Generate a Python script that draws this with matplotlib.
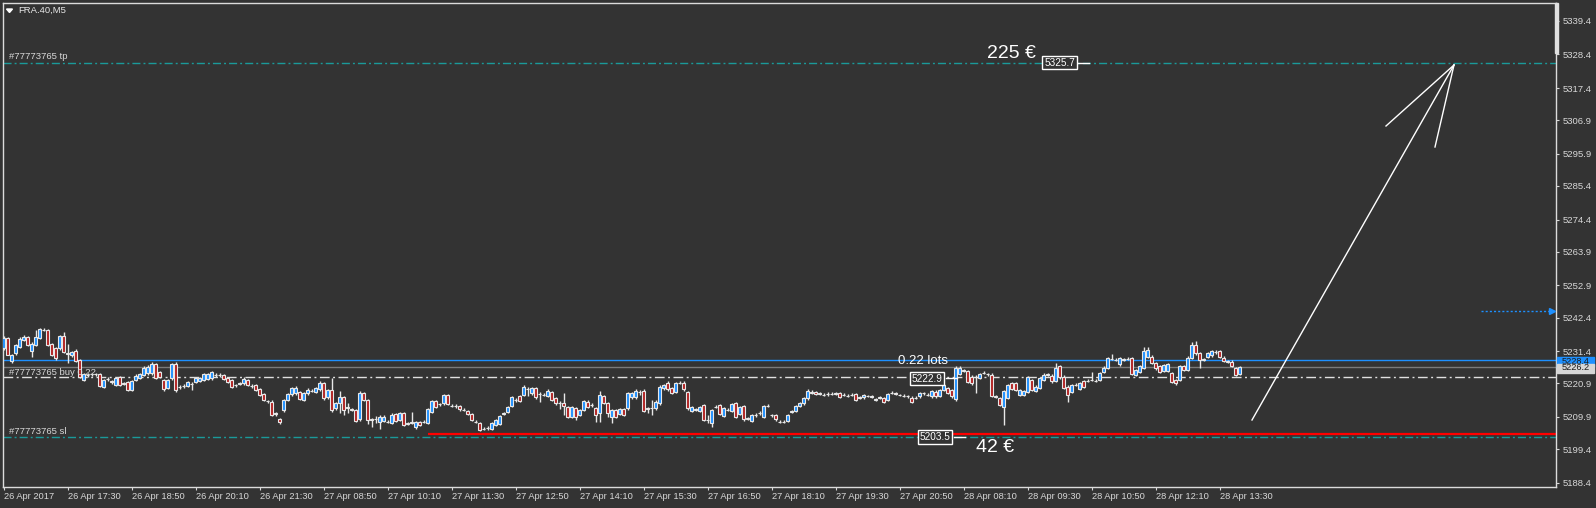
import matplotlib
matplotlib.use('Agg')
import matplotlib.pyplot as plt
from matplotlib.lines import Line2D
from matplotlib.patches import Rectangle, Polygon
import numpy as np

W, H = 1596, 508
BG = '#333333'
FG = '#d8d8d8'

# ---------------- data (FRA.40, M5) ----------------
opens = [
 5232.3, 5235.8, 5228.2, 5230.7, 5232.8, 5235.0, 5236.1, 5231.4, 5233.4, 5235.8,
 5238.3, 5238.3, 5233.9, 5232.3, 5232.3, 5236.4, 5230.8, 5230.1, 5231.5, 5228.5,
 5221.9, 5223.6, 5223.8, 5223.9, 5223.8, 5219.8, 5222.2, 5221.5, 5220.3, 5222.9,
 5220.9, 5221.2, 5218.7, 5221.9, 5222.7, 5223.6, 5224.1, 5224.1, 5227.1, 5224.5,
 5221.9, 5219.4, 5222.5, 5227.1, 5219.8, 5220.0, 5220.1, 5220.6, 5221.4, 5221.6,
 5222.0, 5222.3, 5222.5, 5223.6, 5223.7, 5223.6, 5222.7, 5221.9, 5220.3, 5220.8,
 5220.9, 5221.9, 5220.1, 5220.3, 5219.0, 5217.3, 5215.1, 5214.9, 5211.0, 5209.2,
 5212.2, 5215.4, 5217.3, 5217.6, 5217.9, 5215.6, 5217.6, 5218.4, 5218.1, 5218.9,
 5220.9, 5216.3, 5218.7, 5212.7, 5214.3, 5216.5, 5213.0, 5212.4, 5212.2, 5209.1,
 5217.6, 5215.4, 5209.1, 5209.2, 5208.3, 5208.5, 5208.4, 5208.0, 5210.8, 5208.9,
 5211.1, 5207.8, 5208.0, 5206.7, 5208.3, 5208.3, 5208.0, 5211.6, 5215.2, 5214.1,
 5214.3, 5217.1, 5213.5, 5213.4, 5213.5, 5212.2, 5211.9, 5210.8, 5208.3, 5208.0,
 5206.1, 5206.2, 5206.1, 5207.2, 5207.6, 5211.0, 5211.6, 5213.5, 5215.4, 5216.7,
 5217.1, 5219.0, 5217.6, 5219.2, 5217.4, 5217.1, 5216.7, 5218.1, 5216.0, 5214.5,
 5214.5, 5213.2, 5209.8, 5212.7, 5210.5, 5212.2, 5214.9, 5213.8, 5212.7, 5211.1,
 5216.7, 5214.5, 5210.0, 5212.2, 5210.8, 5212.4, 5212.7, 5216.3, 5216.3, 5218.1,
 5218.5, 5212.7, 5212.7, 5212.7, 5214.3, 5219.2, 5221.1, 5219.2, 5218.1, 5221.0,
 5221.1, 5218.1, 5211.9, 5212.4, 5211.9, 5213.8, 5208.9, 5207.8, 5213.2, 5213.8,
 5210.2, 5212.2, 5211.9, 5214.3, 5210.8, 5213.5, 5209.4, 5208.7, 5210.5, 5211.1,
 5209.8, 5213.5, 5210.5, 5210.5, 5208.3, 5208.3, 5208.7, 5211.6, 5211.9, 5213.5,
 5214.3, 5216.0, 5217.8, 5218.0, 5217.5, 5217.2, 5217.3, 5217.4, 5217.5, 5217.8,
 5217.0, 5216.9, 5217.0, 5217.4, 5216.2, 5216.3, 5216.8, 5216.5, 5215.6, 5216.2,
 5216.0, 5215.6, 5217.7, 5217.6, 5217.1, 5216.8, 5216.7, 5216.2, 5216.1, 5216.6,
 5217.6, 5217.2, 5216.6, 5218.2, 5216.9, 5218.7, 5219.3, 5218.7, 5215.8, 5223.9,
 5225.0, 5225.0, 5223.1, 5223.1, 5222.6, 5224.2, 5223.9, 5223.7, 5216.6, 5216.0,
 5213.3, 5216.2, 5220.9, 5220.9, 5217.1, 5217.1, 5218.2, 5222.0, 5218.4, 5219.5,
 5222.0, 5223.7, 5223.4, 5221.7, 5226.4, 5223.1, 5219.8, 5218.2, 5220.4, 5219.1,
 5221.7, 5221.7, 5222.0, 5221.7, 5222.0, 5224.5, 5226.0, 5228.9, 5228.6, 5227.1,
 5228.6, 5228.9, 5229.1, 5223.7, 5224.7, 5226.0, 5229.6, 5229.6, 5227.5, 5226.4,
 5225.0, 5225.0, 5224.2, 5222.0, 5222.0, 5226.4, 5225.3, 5229.1, 5233.5, 5230.7,
 5228.6, 5229.5, 5230.0, 5231.1, 5231.5, 5229.3, 5228.2, 5228.0, 5225.9, 5224.0,
]
closes = [
 5235.8, 5230.3, 5230.1, 5233.4, 5235.4, 5236.1, 5233.4, 5233.9, 5236.1, 5238.6,
 5238.4, 5233.4, 5230.3, 5229.2, 5236.4, 5231.2, 5230.5, 5231.0, 5228.2, 5223.0,
 5223.8, 5223.7, 5223.9, 5223.8, 5220.1, 5221.9, 5222.3, 5221.3, 5222.7, 5220.3,
 5220.8, 5218.7, 5221.6, 5223.3, 5223.8, 5226.0, 5226.3, 5227.1, 5222.7, 5223.0,
 5219.0, 5221.9, 5227.1, 5218.7, 5219.6, 5220.1, 5221.4, 5220.7, 5222.5, 5222.5,
 5223.8, 5223.8, 5224.5, 5223.7, 5223.6, 5222.3, 5221.4, 5219.8, 5220.2, 5220.9,
 5222.3, 5220.3, 5220.0, 5218.7, 5217.0, 5215.4, 5215.0, 5210.5, 5211.1, 5208.1,
 5215.4, 5217.3, 5219.4, 5219.4, 5215.9, 5217.8, 5218.8, 5218.5, 5219.2, 5221.1,
 5216.0, 5218.7, 5212.2, 5214.5, 5216.3, 5212.2, 5212.9, 5212.3, 5208.7, 5217.6,
 5215.4, 5208.9, 5209.0, 5209.3, 5210.0, 5210.0, 5208.3, 5210.5, 5208.7, 5211.1,
 5207.2, 5207.7, 5208.1, 5208.3, 5207.2, 5208.4, 5212.4, 5215.2, 5213.2, 5214.0,
 5217.1, 5214.1, 5213.4, 5213.5, 5212.4, 5212.1, 5210.9, 5208.9, 5208.2, 5205.6,
 5206.0, 5206.3, 5207.8, 5208.9, 5210.2, 5211.1, 5213.2, 5216.3, 5215.5, 5215.2,
 5219.8, 5219.1, 5219.2, 5216.3, 5217.5, 5217.0, 5218.5, 5215.4, 5214.3, 5214.4,
 5213.5, 5209.8, 5213.2, 5209.8, 5212.2, 5215.2, 5213.2, 5213.7, 5210.5, 5217.1,
 5214.5, 5211.3, 5212.2, 5210.0, 5212.4, 5210.5, 5217.8, 5217.6, 5218.5, 5218.2,
 5211.9, 5212.6, 5212.8, 5214.9, 5219.8, 5220.3, 5218.9, 5217.8, 5220.9, 5221.1,
 5218.9, 5212.7, 5213.2, 5212.3, 5213.2, 5208.9, 5208.8, 5212.2, 5213.3, 5210.8,
 5212.7, 5212.3, 5214.1, 5209.8, 5213.2, 5209.1, 5209.3, 5210.5, 5210.6, 5211.2,
 5213.5, 5213.4, 5210.4, 5209.1, 5208.2, 5208.4, 5210.5, 5211.7, 5213.5, 5214.5,
 5216.0, 5218.5, 5218.1, 5217.5, 5217.6, 5217.1, 5217.4, 5217.5, 5217.6, 5216.5,
 5217.1, 5216.8, 5217.1, 5215.6, 5216.3, 5217.1, 5216.7, 5216.6, 5215.7, 5216.3,
 5214.9, 5217.4, 5217.8, 5217.5, 5217.0, 5216.9, 5216.6, 5214.9, 5216.2, 5217.7,
 5217.7, 5217.1, 5218.4, 5216.6, 5218.7, 5220.4, 5217.7, 5216.6, 5226.0, 5225.8,
 5225.1, 5221.3, 5220.9, 5223.0, 5223.9, 5224.3, 5223.8, 5216.9, 5216.5, 5213.8,
 5218.4, 5220.4, 5219.1, 5218.7, 5218.7, 5218.4, 5222.8, 5218.7, 5219.8, 5222.6,
 5223.7, 5223.8, 5221.5, 5225.8, 5222.8, 5219.3, 5217.1, 5220.4, 5220.5, 5220.9,
 5219.8, 5221.8, 5222.1, 5221.6, 5224.2, 5226.0, 5229.1, 5229.0, 5228.5, 5229.1,
 5228.7, 5229.0, 5223.9, 5225.3, 5226.4, 5231.3, 5231.8, 5227.5, 5225.8, 5224.7,
 5226.9, 5227.1, 5221.3, 5220.9, 5226.4, 5225.3, 5229.3, 5233.5, 5230.7, 5228.6,
 5228.7, 5230.7, 5231.5, 5231.2, 5229.5, 5228.2, 5228.0, 5226.6, 5223.7, 5226.2,
]
highs = [
 5236.3, 5236.0, 5230.5, 5233.8, 5236.0, 5236.8, 5236.5, 5234.3, 5238.3, 5239.1,
 5238.9, 5238.6, 5234.2, 5232.8, 5236.8, 5237.5, 5233.9, 5231.4, 5232.0, 5228.9,
 5224.3, 5224.2, 5224.4, 5224.4, 5224.2, 5222.3, 5222.9, 5221.9, 5223.1, 5223.3,
 5221.4, 5221.6, 5222.0, 5224.0, 5224.3, 5226.4, 5226.8, 5227.9, 5227.6, 5224.9,
 5222.3, 5222.3, 5227.6, 5227.9, 5220.3, 5220.6, 5221.8, 5221.2, 5222.9, 5222.9,
 5224.2, 5224.2, 5225.0, 5224.2, 5224.1, 5224.0, 5223.1, 5222.3, 5220.8, 5221.4,
 5222.8, 5222.4, 5220.6, 5220.7, 5219.4, 5217.7, 5215.6, 5215.3, 5211.6, 5209.6,
 5215.8, 5217.7, 5219.8, 5219.9, 5218.3, 5218.2, 5219.4, 5219.0, 5219.6, 5221.7,
 5221.3, 5219.1, 5222.5, 5214.9, 5218.5, 5216.9, 5214.6, 5212.9, 5212.6, 5218.5,
 5218.0, 5215.8, 5209.6, 5210.2, 5210.4, 5210.4, 5208.9, 5211.1, 5211.2, 5211.5,
 5211.5, 5208.3, 5211.6, 5208.7, 5208.7, 5208.9, 5212.8, 5215.6, 5215.6, 5214.6,
 5217.5, 5217.5, 5214.0, 5214.0, 5213.9, 5212.7, 5212.3, 5211.2, 5208.8, 5208.4,
 5206.6, 5206.8, 5208.2, 5209.3, 5210.6, 5211.6, 5213.6, 5216.7, 5216.0, 5217.1,
 5220.2, 5219.6, 5219.6, 5219.6, 5218.0, 5217.6, 5218.9, 5218.5, 5216.4, 5215.0,
 5217.6, 5213.6, 5213.6, 5213.1, 5212.6, 5215.6, 5215.3, 5214.3, 5213.1, 5218.5,
 5217.1, 5214.9, 5212.6, 5212.6, 5212.8, 5212.8, 5218.2, 5218.0, 5218.9, 5218.7,
 5218.9, 5213.2, 5215.4, 5215.3, 5220.2, 5220.7, 5221.5, 5219.6, 5221.3, 5221.6,
 5221.5, 5218.5, 5213.6, 5212.9, 5213.6, 5214.2, 5210.5, 5212.6, 5213.8, 5214.2,
 5213.1, 5212.8, 5214.5, 5214.7, 5213.6, 5213.9, 5209.9, 5210.9, 5211.1, 5211.7,
 5213.9, 5214.0, 5211.0, 5210.9, 5208.8, 5208.9, 5210.9, 5212.2, 5213.9, 5214.9,
 5216.4, 5218.9, 5218.6, 5218.4, 5218.1, 5217.6, 5217.9, 5218.0, 5218.1, 5218.2,
 5217.6, 5217.3, 5217.6, 5217.8, 5216.8, 5217.5, 5217.2, 5217.0, 5216.2, 5216.8,
 5216.4, 5217.8, 5218.3, 5218.0, 5217.5, 5217.4, 5217.1, 5216.6, 5216.7, 5218.1,
 5218.2, 5217.6, 5218.8, 5218.6, 5219.1, 5220.8, 5219.7, 5219.1, 5226.4, 5226.5,
 5225.6, 5225.4, 5223.5, 5223.6, 5224.3, 5224.8, 5224.4, 5224.1, 5217.1, 5216.4,
 5218.8, 5220.8, 5221.3, 5221.3, 5219.1, 5218.8, 5223.2, 5222.4, 5220.2, 5223.0,
 5224.1, 5224.3, 5223.8, 5227.5, 5226.8, 5223.5, 5220.2, 5220.8, 5221.0, 5221.3,
 5222.1, 5222.3, 5224.7, 5222.2, 5224.6, 5226.4, 5229.5, 5230.4, 5229.1, 5229.5,
 5229.2, 5229.5, 5229.5, 5225.7, 5226.8, 5232.6, 5232.9, 5230.0, 5227.9, 5226.8,
 5227.3, 5227.5, 5224.6, 5222.4, 5226.8, 5226.8, 5229.7, 5234.3, 5234.6, 5231.1,
 5229.2, 5231.1, 5231.9, 5231.7, 5231.9, 5229.7, 5228.6, 5228.4, 5226.3, 5226.6,
]
lows = [
 5231.8, 5230.0, 5227.4, 5230.3, 5232.5, 5234.6, 5233.0, 5229.6, 5233.0, 5235.4,
 5237.9, 5233.0, 5229.9, 5228.6, 5231.8, 5230.8, 5227.4, 5229.6, 5227.8, 5222.5,
 5221.5, 5223.0, 5223.3, 5223.2, 5219.7, 5219.4, 5221.6, 5220.8, 5219.9, 5219.9,
 5220.3, 5218.3, 5218.3, 5221.5, 5222.3, 5223.2, 5223.7, 5223.7, 5222.3, 5222.6,
 5218.3, 5219.0, 5222.0, 5218.1, 5219.0, 5219.4, 5219.7, 5218.7, 5221.0, 5221.2,
 5221.6, 5221.9, 5222.1, 5223.1, 5223.1, 5221.9, 5221.0, 5219.4, 5219.7, 5220.3,
 5220.5, 5219.9, 5219.5, 5218.3, 5216.6, 5215.0, 5214.5, 5210.1, 5210.2, 5207.7,
 5211.6, 5215.0, 5216.9, 5217.2, 5215.5, 5215.2, 5217.2, 5217.9, 5217.7, 5218.5,
 5215.6, 5215.9, 5211.6, 5212.3, 5211.1, 5210.5, 5211.1, 5211.8, 5208.3, 5208.7,
 5215.0, 5207.5, 5206.7, 5208.0, 5205.8, 5208.1, 5207.8, 5207.6, 5208.3, 5208.5,
 5206.8, 5207.2, 5207.5, 5205.9, 5206.8, 5207.8, 5207.6, 5211.2, 5212.8, 5213.6,
 5213.9, 5213.7, 5213.0, 5212.9, 5212.0, 5211.7, 5210.5, 5208.5, 5207.8, 5205.2,
 5205.6, 5205.7, 5205.7, 5206.8, 5207.2, 5210.5, 5211.2, 5213.1, 5214.9, 5214.8,
 5216.7, 5216.8, 5217.2, 5215.9, 5214.9, 5216.6, 5216.3, 5215.0, 5213.9, 5212.4,
 5210.5, 5209.4, 5209.4, 5208.9, 5210.1, 5211.8, 5212.8, 5213.3, 5208.4, 5208.4,
 5214.1, 5210.0, 5207.8, 5209.6, 5210.4, 5210.1, 5212.3, 5215.9, 5215.9, 5217.1,
 5211.5, 5211.1, 5210.5, 5212.3, 5213.9, 5218.8, 5218.5, 5217.4, 5217.7, 5220.6,
 5218.5, 5212.3, 5211.5, 5211.9, 5211.5, 5208.5, 5207.8, 5206.7, 5212.8, 5210.4,
 5209.8, 5211.8, 5211.5, 5209.4, 5210.4, 5208.7, 5208.9, 5208.3, 5210.0, 5210.6,
 5209.4, 5213.0, 5210.0, 5208.7, 5207.8, 5207.8, 5208.3, 5211.1, 5211.5, 5213.1,
 5213.9, 5215.6, 5217.4, 5217.1, 5217.1, 5216.7, 5216.9, 5217.0, 5217.1, 5216.1,
 5216.6, 5216.4, 5216.6, 5215.2, 5215.8, 5215.9, 5216.3, 5216.1, 5215.2, 5215.8,
 5214.5, 5215.2, 5217.3, 5217.1, 5216.6, 5216.4, 5216.2, 5214.5, 5215.7, 5216.2,
 5217.2, 5216.7, 5216.2, 5216.2, 5216.5, 5218.3, 5217.3, 5216.2, 5215.2, 5223.5,
 5224.5, 5220.9, 5220.5, 5217.7, 5222.2, 5223.8, 5223.4, 5216.5, 5216.1, 5213.4,
 5207.3, 5215.8, 5218.7, 5218.3, 5216.7, 5216.7, 5217.8, 5218.3, 5218.0, 5219.1,
 5221.6, 5223.2, 5221.1, 5221.3, 5222.4, 5218.9, 5214.9, 5217.8, 5220.0, 5218.7,
 5219.4, 5221.2, 5221.5, 5221.2, 5221.6, 5224.1, 5225.6, 5228.4, 5228.1, 5226.7,
 5228.1, 5228.4, 5223.5, 5223.3, 5224.3, 5225.6, 5229.2, 5227.1, 5225.4, 5224.3,
 5224.6, 5224.6, 5220.9, 5220.5, 5221.6, 5224.9, 5224.9, 5228.7, 5230.3, 5226.0,
 5228.1, 5229.1, 5229.6, 5230.6, 5229.1, 5227.8, 5227.6, 5226.2, 5223.3, 5223.6,
]

x_labels = ["26 Apr 2017", "26 Apr 17:30", "26 Apr 18:50", "26 Apr 20:10", "26 Apr 21:30",
            "27 Apr 08:50", "27 Apr 10:10", "27 Apr 11:30", "27 Apr 12:50", "27 Apr 14:10",
            "27 Apr 15:30", "27 Apr 16:50", "27 Apr 18:10", "27 Apr 19:30", "27 Apr 20:50",
            "28 Apr 08:10", "28 Apr 09:30", "28 Apr 10:50", "28 Apr 12:10", "28 Apr 13:30"]
label_step = 16
y_ticks = [5188.4, 5199.4, 5209.9, 5220.9, 5231.4, 5242.4, 5252.9, 5263.9,
           5274.4, 5285.4, 5295.9, 5306.9, 5317.4, 5328.4, 5339.4]

tp_price = 5325.7
entry_price = 5222.9
sl_price = 5203.5
sl_red_level = 5204.3
sl_red_start = 106
ask_price = 5228.4
bid_price = 5226.2
alert_price = 5244.6
alert_start = 369.4
order_id = "#77773765"
lots_text = "0.22 lots"
tp_profit = "225 €"
sl_loss = "42 €"
symbol = "FRA.40,M5"

plt.rcParams['font.family'] = ['Liberation Sans', 'DejaVu Sans']

fig = plt.figure(figsize=(W / 100, H / 100), dpi=100, facecolor=BG)
L, R, T, B = 3, 1556, 3, 487
ax = fig.add_axes([L / W, 1 - B / H, (R - L) / W, (B - T) / H], facecolor=BG)
ax.set_xlim(-0.125, 388.1)
ax.set_ylim(5187.0, 5345.2)

for s in ax.spines.values():
    s.set_color('#dcdcdc')
    s.set_linewidth(1.0)

# axes ticks
ax.yaxis.tick_right()
ax.set_yticks(y_ticks)
ax.set_yticklabels([f"{v:.1f}" for v in y_ticks])
ax.set_xticks(np.arange(len(x_labels)) * label_step)
ax.set_xticklabels(x_labels, ha='left')
ax.tick_params(axis='y', direction='out', length=2.3, pad=2.6, colors=FG, labelsize=6.8, width=0.8)
ax.tick_params(axis='x', direction='out', length=2.3, pad=1.5, colors=FG, labelsize=6.7, width=0.8)

# price lines
ax.axhline(tp_price, color='#1a9a9a', lw=1.0, dashes=(5.8, 2.2, 1.4, 2.2), zorder=2)
ax.axhline(sl_price, color='#1a9a9a', lw=1.0, dashes=(5.8, 2.2, 1.4, 2.2), zorder=2)
ax.axhline(entry_price, color='#e0e0e0', lw=1.0, dashes=(7, 2.5, 1.4, 2.5), zorder=2)
ax.axhline(ask_price, color='#1e90ff', lw=1.0, zorder=2)
ax.axhline(bid_price, color='#7a7a7a', lw=1.0, zorder=2)
ax.hlines(sl_red_level, sl_red_start, 388.1, color='#ff0000', lw=1.6, zorder=2)

# candles
o = np.array(opens); c = np.array(closes)
idx = np.arange(len(o))
up = c >= o
ax.vlines(idx, lows, highs, color='#e8e8e8', lw=1.0, zorder=3)
ax.bar(idx, np.abs(c - o), bottom=np.minimum(o, c), width=0.6,
       color=np.where(up, '#1e90ff', '#b22222'), edgecolor='#e8e8e8',
       linewidth=0.8, zorder=4)

# alert arrow (blue dotted)
ax.plot([alert_start, 387.2], [alert_price, alert_price], color='#1e90ff', lw=1.0,
        dashes=(1.5, 1.5), zorder=5)
ax.plot([387.2], [alert_price], marker='>', color='#1e90ff', ms=5, zorder=5)


def fp(px, py):
    return px / W, 1 - py / H


def fline(x0, y0, x1, y1, **kw):
    fig.add_artist(Line2D([x0 / W, x1 / W], [1 - y0 / H, 1 - y1 / H],
                          transform=fig.transFigure, **kw))


# hand-drawn arrow
fline(1252, 420, 1454, 65, color='white', lw=1.0)
fline(1454, 65, 1386, 126, color='white', lw=1.0)
fline(1454, 65, 1435, 147, color='white', lw=1.0)

# top-left symbol
fig.add_artist(Polygon([fp(6.5, 9), fp(12.5, 9), fp(9.5, 12.5)], closed=True,
                       transform=fig.transFigure, color='white'))
fig.text(*fp(18, 10.5), symbol, color='#e8e8e8', fontsize=6.8, ha='left', va='center')

# order labels
fig.text(*fp(9, 56.5), f"{order_id} tp", color=FG, fontsize=6.8, ha='left', va='center')
fig.text(*fp(9, 372.5), f"{order_id} buy 0.22", color=FG, fontsize=6.8, ha='left', va='center', zorder=1)
fig.text(*fp(9, 431.5), f"{order_id} sl", color=FG, fontsize=6.8, ha='left', va='center')

# boxed price labels with leader lines
box = dict(boxstyle='square,pad=0.18', fc=BG, ec='white', lw=1.0)
fig.text(*fp(1059.5, 62.5), f"{tp_price:.1f}", color='white', fontsize=7.2, ha='center', va='center', bbox=box)
fline(1078, 62.5, 1089, 62.5, color='white', lw=1.0)
fig.text(*fp(927, 378.5), f"{entry_price:.1f}", color='white', fontsize=7.2, ha='center', va='center', bbox=box, zorder=6)
fline(946, 377.5, 957, 377.5, color='white', lw=1.0)
fig.text(*fp(935, 437), f"{sl_price:.1f}", color='white', fontsize=7.2, ha='center', va='center', bbox=box, zorder=6)
fline(954, 437, 965, 437, color='white', lw=1.0)

# money texts
fig.text(*fp(1011, 53.5), tp_profit, color='white', fontsize=14, ha='center', va='center')
fig.text(*fp(995, 447.5), sl_loss, color='white', fontsize=14, ha='center', va='center')
fig.text(*fp(922.5, 361), lots_text, color='white', fontsize=9.5, ha='center', va='center')

# right axis price tags
fig.patches.append(Rectangle(fp(1557, 366.5), 37 / W, 10 / H, transform=fig.transFigure,
                             color='#1e90ff', zorder=5))
fig.text(*fp(1576, 361), f"{ask_price:.1f}", color='#1a1a1a', fontsize=6.6, ha='center', va='center', zorder=6)
fig.patches.append(Rectangle(fp(1557, 373), 37 / W, 9.5 / H, transform=fig.transFigure,
                             color='#d6d6d6', zorder=7))
fig.text(*fp(1576, 368), f"{bid_price:.1f}", color='#1a1a1a', fontsize=6.6, ha='center', va='center', zorder=8)

# scroll marker at top right of plot frame
fig.patches.append(Rectangle(fp(1555, 53), 3 / W, 50 / H, transform=fig.transFigure,
                             color='#e0e0e0', zorder=5))

fig.savefig('out.png', dpi=100, facecolor=BG)
